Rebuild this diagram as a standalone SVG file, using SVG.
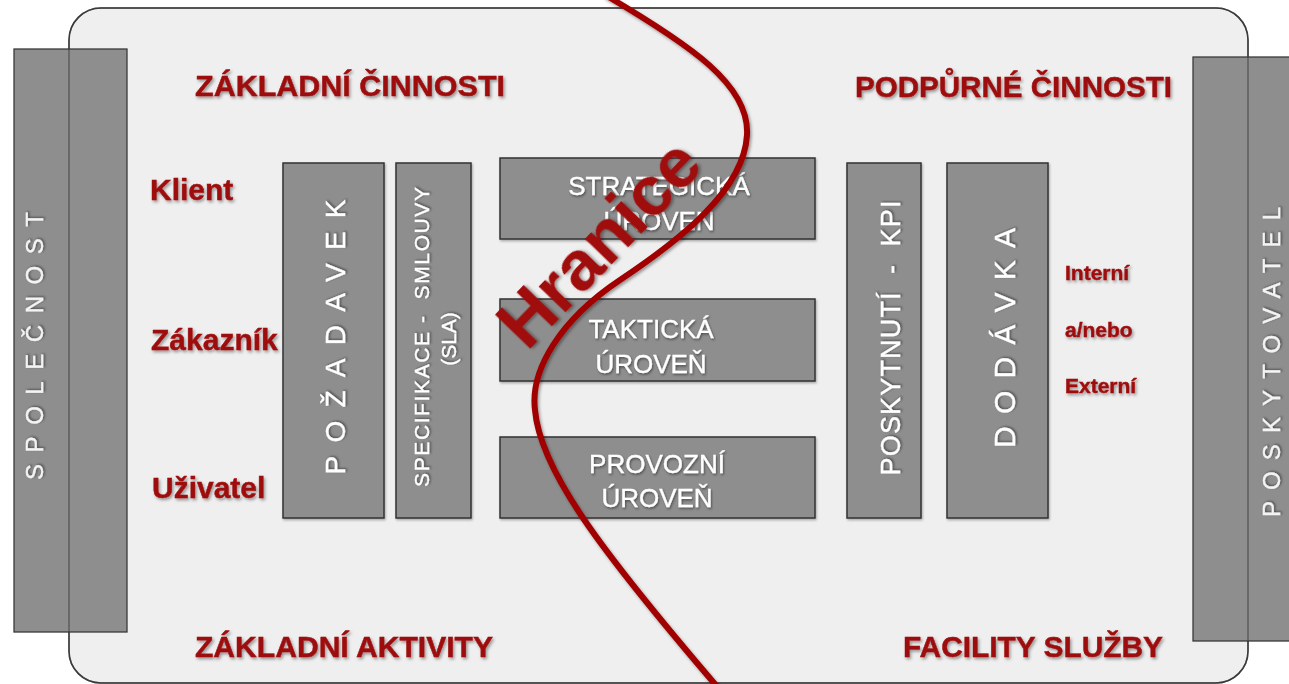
<svg xmlns="http://www.w3.org/2000/svg" width="1289" height="684" viewBox="0 0 1289 684">
  <defs>
    <filter id="shadowRed" x="-10%" y="-30%" width="120%" height="160%">
      <feDropShadow dx="1.5" dy="2" stdDeviation="1.4" flood-color="#000" flood-opacity="0.38"/>
    </filter>
    <filter id="shadowWhite" x="-10%" y="-30%" width="120%" height="160%">
      <feDropShadow dx="1" dy="1.5" stdDeviation="1.2" flood-color="#000" flood-opacity="0.45"/>
    </filter>
    <filter id="shadowBox" x="-5%" y="-5%" width="110%" height="110%">
      <feDropShadow dx="1" dy="1.5" stdDeviation="1.2" flood-color="#000" flood-opacity="0.3"/>
    </filter>
  </defs>
  <style>
    .frame { fill: #efefef; stroke: #3a3a3a; stroke-width: 1.5; }
    .frameLine { fill: none; stroke: #3a3a3a; stroke-width: 1.5; stroke-opacity: 0.6; }
    .bar { fill: #8e8e8e; stroke: #3a3a3a; stroke-width: 1.3; }
    .box { fill: #8e8e8e; stroke: #333; stroke-width: 1.5; filter: url(#shadowBox); }
    .red { font-family: "Liberation Sans", Arial, sans-serif; font-weight: bold; fill: #9e0a0a; stroke: #9e0a0a; stroke-width: 0.4; filter: url(#shadowRed); }
    .title { font-size: 30px; }
    .role { font-size: 30px; }
    .src { font-size: 21px; }
    .white { font-family: "Liberation Sans", Arial, sans-serif; fill: #ffffff; stroke: #ffffff; stroke-width: 0.3; filter: url(#shadowWhite); }
    .side { font-size: 24px; fill: #f4f4f4; stroke: #f4f4f4; }
    .level { font-size: 26px; text-anchor: middle; }
    .vert { text-anchor: middle; }
    .boundary { fill: none; stroke: #a00000; stroke-width: 6; stroke-linecap: round; filter: url(#shadowRed); }
    .boundaryLabel { font-family: "Liberation Sans", Arial, sans-serif; font-weight: bold; font-size: 70px; fill: #a00a0a; filter: url(#shadowRed); }
  </style>

  <rect width="1289" height="684" fill="#ffffff"/>

  <!-- main area -->
  <g id="frame">
    <rect class="frame" x="69" y="8" width="1179" height="675" rx="32" ry="32"/>
  </g>

  <!-- outer parties -->
  <g id="spolecnost">
    <rect class="bar" x="14" y="49" width="113" height="583"/>
    <text class="white side vert" transform="translate(43,346) rotate(-90)" textLength="268" lengthAdjust="spacing">SPOLEČNOST</text>
  </g>
  <g id="poskytovatel">
    <rect class="bar" x="1193" y="57" width="110" height="584"/>
    <text class="white side vert" transform="translate(1280,362) rotate(-90)" textLength="310" lengthAdjust="spacing">POSKYTOVATEL</text>
  </g>
  <!-- frame outline showing through the side bars -->
  <rect class="frameLine" x="69" y="8" width="1179" height="675" rx="32" ry="32"/>

  <!-- section headings -->
  <g id="headings">
    <text class="red title" x="195" y="96" textLength="310" lengthAdjust="spacingAndGlyphs">ZÁKLADNÍ ČINNOSTI</text>
    <text class="red title" x="855" y="97" textLength="317" lengthAdjust="spacingAndGlyphs">PODPŮRNÉ ČINNOSTI</text>
    <text class="red title" x="195" y="657" textLength="298" lengthAdjust="spacingAndGlyphs">ZÁKLADNÍ AKTIVITY</text>
    <text class="red title" x="903" y="657" textLength="260" lengthAdjust="spacingAndGlyphs">FACILITY SLUŽBY</text>
  </g>

  <!-- demand side roles -->
  <g id="roles">
    <text class="red role" x="150" y="200">Klient</text>
    <text class="red role" x="151" y="350">Zákazník</text>
    <text class="red role" x="152" y="498">Uživatel</text>
  </g>

  <g id="pozadavek">
    <rect class="box" x="283" y="163" width="101" height="355"/>
    <text class="white vert" font-size="28" transform="translate(345,337) rotate(-90)" textLength="275" lengthAdjust="spacing">POŽADAVEK</text>
  </g>

  <g id="specifikace">
    <rect class="box" x="396" y="163" width="75" height="355"/>
    <text class="white vert" font-size="21" xml:space="preserve" transform="translate(429,337) rotate(-90)" textLength="300" lengthAdjust="spacing">SPECIFIKACE -  SMLOUVY</text>
    <text class="white vert" font-size="21" transform="translate(456,339) rotate(-90)">(SLA)</text>
  </g>

  <g id="strategicka">
    <rect class="box" x="500" y="158" width="315" height="81"/>
    <text class="white level" x="659" y="195">STRATEGICKÁ</text>
    <text class="white level" x="659" y="230">ÚROVEN</text>
  </g>

  <g id="takticka">
    <rect class="box" x="500" y="299" width="315" height="82"/>
    <text class="white level" x="651" y="338">TAKTICKÁ</text>
    <text class="white level" x="651" y="373">ÚROVEŇ</text>
  </g>

  <g id="provozni">
    <rect class="box" x="500" y="437" width="315" height="81"/>
    <text class="white level" x="657" y="473">PROVOZNÍ</text>
    <text class="white level" x="657" y="507">ÚROVEŇ</text>
  </g>

  <g id="kpi">
    <rect class="box" x="847" y="163" width="74" height="355"/>
    <text class="white vert" font-size="27" xml:space="preserve" transform="translate(900,338) rotate(-90)" textLength="275" lengthAdjust="spacing">POSKYTNUTÍ  -  KPI</text>
  </g>

  <g id="dodavka">
    <rect class="box" x="947" y="163" width="101" height="355"/>
    <text class="white vert" font-size="30" transform="translate(1015,338) rotate(-90)" textLength="220" lengthAdjust="spacing">DODÁVKA</text>
  </g>

  <g id="zdroje">
    <text class="red src" x="1065" y="280">Interní</text>
    <text class="red src" x="1065" y="337">a/nebo</text>
    <text class="red src" x="1065" y="393">Externí</text>
  </g>

  <!-- boundary line between core and support activities -->
  <g id="connectors">
    <path class="boundary" d="M607,-4 C690,45 750,85 747,135 C744,190 680,240 620,280 C560,320 530,370 535,410 C540,470 600,550 720,690"/>
  </g>
  <g id="hranice">
    <text class="boundaryLabel" transform="translate(527,352) rotate(-46)">Hranice</text>
  </g>
</svg>
